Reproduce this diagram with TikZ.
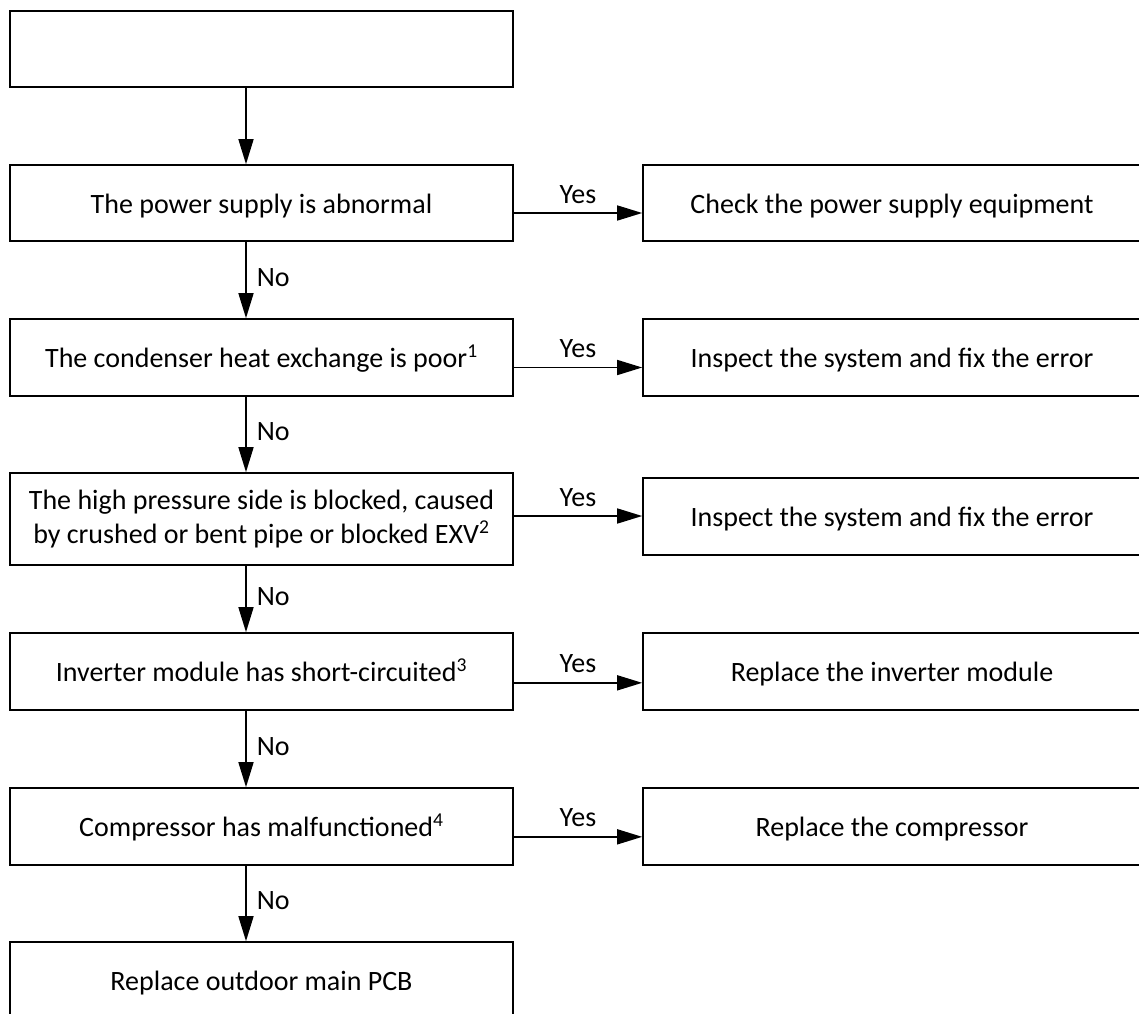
\documentclass[tikz,border=0pt]{standalone}
\usepackage{fontspec}
\setmainfont{Carlito}
\usetikzlibrary{arrows.meta}
\begin{document}
\begin{tikzpicture}[x=0.75pt,y=-0.75pt,
  font=\fontsize{21pt}{25pt}\selectfont,
  frame/.style={draw, line width=1.25pt, inner sep=0pt},
  oneline/.style={frame, minimum height=57pt, text height=16pt, text depth=1pt},
  leftbox/.style={oneline, minimum width=377.25pt},
  rightbox/.style={oneline, minimum width=373.5pt},
  flow/.style={line width=1.2pt, -{Triangle[length=18.75pt,width=11.25pt]}},
  yeslbl/.style={midway, anchor=base, yshift=7.5pt, inner sep=0pt},
  nolbl/.style={midway, anchor=west, xshift=7.5pt, yshift=2pt, inner sep=0pt}]

\path[use as bounding box] (0,0) rectangle (1139,1014);
\clip (0,0) rectangle (1139,1014);

% decision chain
\node[leftbox] (b0) at (261.5,49) {};
\node[leftbox] (b1) at (261.5,203) {The power supply is abnormal};
\node[leftbox, minimum height=57.75pt] (b2) at (261.5,357.5) {The condenser heat exchange is poor\textsuperscript{1}};
\node[frame, minimum width=377.25pt, minimum height=69pt, align=center] (b3) at (261.5,519)
  {The high pressure side is blocked, caused\\by crushed or bent pipe or blocked EXV\textsuperscript{2}};
\node[leftbox, minimum height=57.75pt] (b4) at (261.5,671.5) {Inverter module has short-circuited\textsuperscript{3}};
\node[leftbox, minimum height=57.75pt] (b5) at (261.5,826.5) {Compressor has malfunctioned\textsuperscript{4}};
\node[leftbox, minimum height=57.75pt] (b6) at (261.5,980.5) {Replace outdoor main PCB};

% remedies
\node[rightbox] (r1) at (892,203) {Check the power supply equipment};
\node[rightbox, minimum height=57.75pt] (r2) at (892,357.5) {Inspect the system and fix the error};
\node[rightbox, minimum height=57.75pt] (r3) at (892,516.5) {Inspect the system and fix the error};
\node[rightbox, minimum height=57.75pt] (r4) at (892,671.5) {Replace the inverter module};
\node[rightbox, minimum height=57.75pt] (r5) at (892,826.5) {Replace the compressor};

% vertical "No" path
\draw[flow] ([xshift=-11.625pt]b0.south) -- ([xshift=-11.625pt]b1.north);
\draw[flow] ([xshift=-11.625pt]b1.south) -- ([xshift=-11.625pt]b2.north) node[nolbl] {No};
\draw[flow] ([xshift=-11.625pt]b2.south) -- ([xshift=-11.625pt]b3.north) node[nolbl] {No};
\draw[flow] ([xshift=-11.625pt]b3.south) -- ([xshift=-11.625pt]b4.north) node[nolbl] {No};
\draw[flow] ([xshift=-11.625pt]b4.south) -- ([xshift=-11.625pt]b5.north) node[nolbl] {No};
\draw[flow] ([xshift=-11.625pt]b5.south) -- ([xshift=-11.625pt]b6.north) node[nolbl] {No};

% horizontal "Yes" branches
\coordinate (y1) at ([yshift=-7.5pt]b1.east);
\coordinate (y2) at ([yshift=-7.5pt]b2.east);
\coordinate (y3) at ([yshift=2.25pt]b3.east);
\coordinate (y4) at ([yshift=-8.5pt]b4.east);
\coordinate (y5) at ([yshift=-7.75pt]b5.east);
\draw[flow] (y1) -- (y1 -| r1.west) node[yeslbl] {Yes};
\draw[flow] (y2) -- (y2 -| r2.west) node[yeslbl] {Yes};
\draw[flow] (y3) -- (y3 -| r3.west) node[yeslbl] {Yes};
\draw[flow] (y4) -- (y4 -| r4.west) node[yeslbl] {Yes};
\draw[flow] (y5) -- (y5 -| r5.west) node[yeslbl] {Yes};
\end{tikzpicture}
\end{document}
